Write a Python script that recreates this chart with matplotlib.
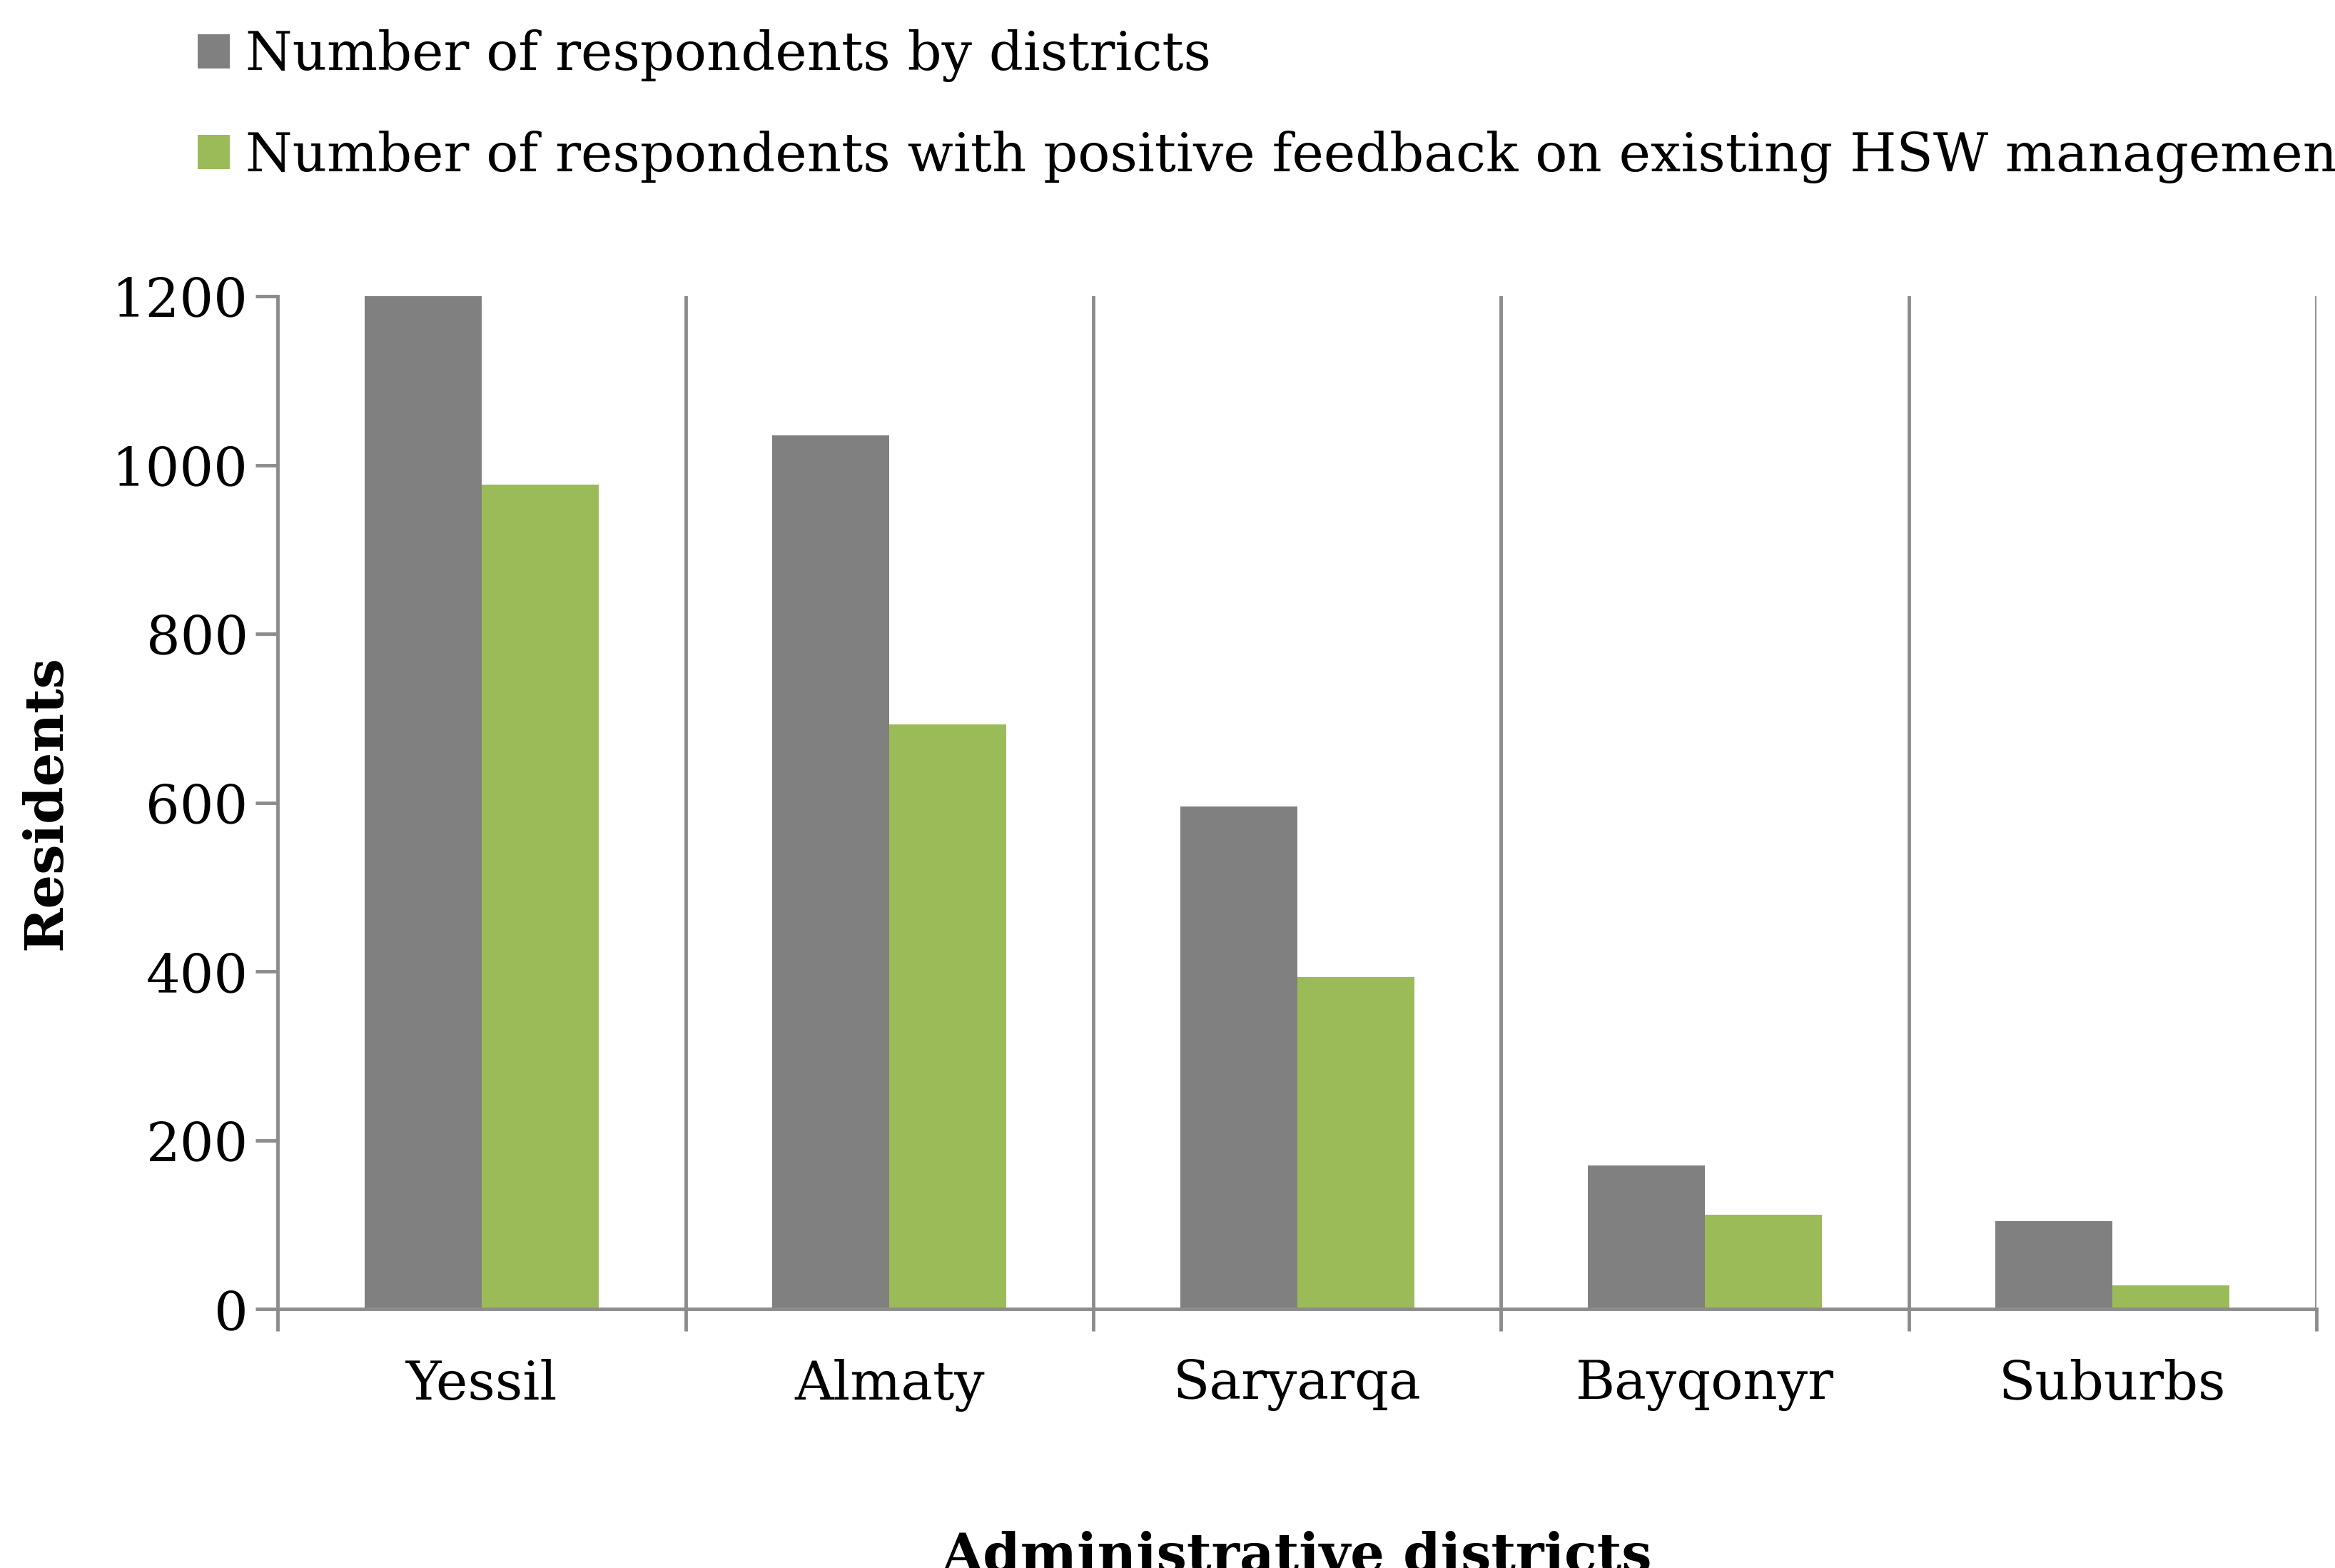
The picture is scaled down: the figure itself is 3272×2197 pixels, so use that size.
import matplotlib.pyplot as plt
import numpy as np

districts = ["Yessil", "Almaty", "Saryarqa", "Bayqonyr", "Suburbs"]
respondents = [1200, 1035, 596, 170, 104]
positive = [977, 693, 394, 112, 28]

plt.rcParams['font.family'] = ['DejaVu Serif']
GRAY = '#808080'
GREEN = '#9BBB59'
AX = '#8C8C8C'
FS = 54

fig = plt.figure(figsize=(32.72, 21.97), dpi=100)
ax = fig.add_axes([0.119, 0.165, 0.873, 0.646])

x = np.arange(len(districts))
w = 0.287
ax.bar(x - w / 2, respondents, w, color=GRAY, label="Number of respondents by districts")
ax.bar(x + w / 2, positive, w, color=GREEN,
       label="Number of respondents with positive feedback on existing HSW management")

ax.set_xlim(-0.5, len(districts) - 0.5)
ax.set_ylim(0, 1200)
ax.set_yticks(range(0, 1201, 200))
ax.set_xticks(x)
ax.set_xticklabels(districts)
ax.set_xticks(np.arange(-0.5, len(districts)), minor=True)
for b in np.arange(0.5, len(districts)):
    ax.axvline(b, color=AX, lw=3.5, zorder=0)

for s in ['top', 'right']:
    ax.spines[s].set_visible(False)
for s in ['left', 'bottom']:
    ax.spines[s].set_color(AX)
    ax.spines[s].set_linewidth(3.5)
ax.tick_params(axis='y', direction='out', length=22, width=3.5, color=AX, labelsize=FS, pad=8)
ax.tick_params(axis='x', which='major', length=0, labelsize=FS, pad=50)
ax.tick_params(axis='x', which='minor', direction='out', length=22, width=3.5, color=AX)

ax.set_ylabel("Residents", fontsize=FS, fontweight='bold', labelpad=40)
ax.set_xlabel("Administrative districts", fontsize=FS, fontweight='bold', labelpad=120)

fig.legend(loc='upper left', bbox_to_anchor=(0.064, 1.012), frameon=False, fontsize=FS,
           handlelength=0.6, handleheight=0.6, handletextpad=0.3, labelspacing=0.9)

fig.savefig("out.png", dpi=100)
